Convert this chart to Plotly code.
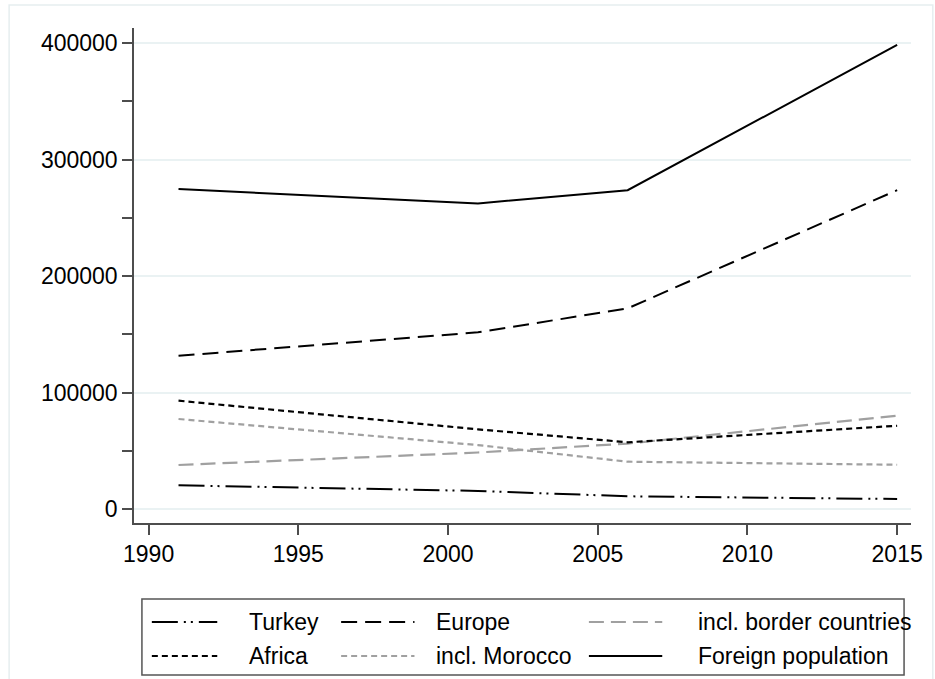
import plotly.graph_objects as go

# Census years and population counts by origin
years = [1991, 2001, 2006, 2015]
turkey = [20300, 15500, 10900, 8600]
europe = [131600, 151700, 172300, 273800]
border_countries = [37800, 48500, 56200, 80100]
africa = [93000, 68400, 57300, 71500]
morocco = [77300, 54900, 40600, 38000]
foreign_total = [274700, 262400, 273800, 398500]

series_names = ["Turkey", "Europe", "incl. border countries",
                "Africa", "incl. Morocco", "Foreign population"]
series_values = [turkey, europe, border_countries, africa, morocco, foreign_total]

x_ticks = [1990, 1995, 2000, 2005, 2010, 2015]
y_ticks = [0, 100000, 200000, 300000, 400000]

BLACK = "#000000"
GREY = "#a0a0a0"
styles = [
    dict(color=BLACK, dash="26px,6px,2px,5px,2px,6px", width=2),
    dict(color=BLACK, dash="16px,8px", width=2),
    dict(color=GREY, dash="15px,7px", width=2.2),
    dict(color=BLACK, dash="6px,4px", width=2.2),
    dict(color=GREY, dash="6px,4px", width=2.2),
    dict(color=BLACK, dash="solid", width=2),
]

W, H = 935, 679
L, R, T, B = 134, 17, 28, 156
PW, PH = W - L - R, H - T - B


def px(x):
    return (x - L) / PW


def py(y):
    return (H - B - y) / PH


fig = go.Figure()
for name, vals, st in zip(series_names, series_values, styles):
    fig.add_trace(go.Scatter(x=years, y=vals, mode="lines", name=name,
                             line=st, showlegend=False))

shapes = []
annotations = []

# outer frame of the graph region
shapes.append(dict(type="rect", xref="paper", yref="paper",
                   x0=px(8), x1=px(W + 5), y0=py(H + 5), y1=py(5),
                   line=dict(color="#e6eef0", width=1.5), layer="below"))

# legend box with a 3 x 2 grid of entries
shapes.append(dict(type="rect", xref="paper", yref="paper",
                   x0=px(142), x1=px(911), y0=py(675), y1=py(599),
                   line=dict(color="#555555", width=1.5),
                   fillcolor="white", layer="below"))
col_line = [(152, 218), (343, 417), (593, 667)]
col_text = [248, 437, 701]
row_y = [622, 656]
for i, (name, st) in enumerate(zip(series_names, styles)):
    r, c = divmod(i, 3)
    x0, x1 = col_line[c]
    shapes.append(dict(type="line", xref="paper", yref="paper",
                       x0=px(x0), x1=px(x1), y0=py(row_y[r]), y1=py(row_y[r]),
                       line=st))
    annotations.append(dict(xref="paper", yref="paper", x=px(col_text[c]),
                            y=py(row_y[r]), text=name, showarrow=False,
                            xanchor="left", yanchor="middle",
                            font=dict(size=23, color=BLACK)))

axis_col = "#4d4d4d"
fig.update_layout(
    width=W, height=H,
    margin=dict(l=L, r=R, t=T, b=B, pad=0),
    paper_bgcolor="white", plot_bgcolor="white",
    font=dict(family="Liberation Sans, Arial, sans-serif", size=23, color=BLACK),
    shapes=shapes, annotations=annotations,
    xaxis=dict(range=[1989.513, 2015.463], tickvals=x_ticks,
               ticks="outside", ticklen=10, tickwidth=1.5, tickcolor=axis_col,
               showline=True, linecolor=axis_col, linewidth=1.5,
               showgrid=False, zeroline=False, fixedrange=True),
    yaxis=dict(range=[-12020, 413050], tickvals=y_ticks,
               ticks="outside", ticklen=10, tickwidth=1.5, tickcolor=axis_col,
               showline=True, linecolor=axis_col, linewidth=1.5,
               showgrid=True, gridcolor="#eaf2f3", gridwidth=2,
               zeroline=False, fixedrange=True, tickformat="d",
               minor=dict(dtick=50000, ticks="outside", ticklen=10,
                          tickwidth=1.5, tickcolor=axis_col, showgrid=False)),
)

fig.write_html("out.html")
